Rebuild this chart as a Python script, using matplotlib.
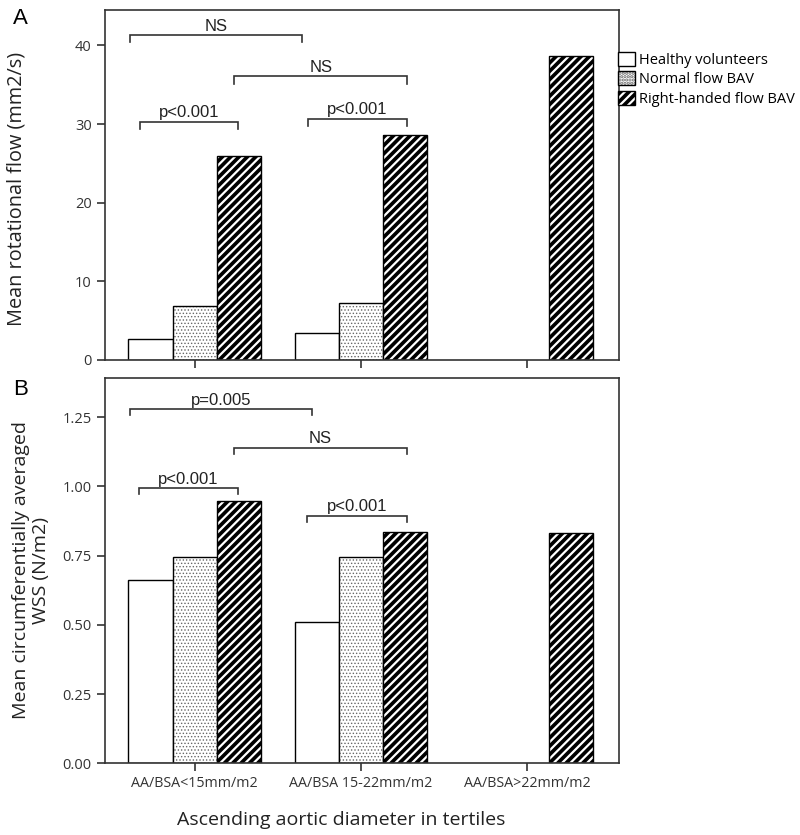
import numpy as np
import matplotlib
matplotlib.use("Agg")
import matplotlib.pyplot as plt
from matplotlib.patches import Patch

plt.rcParams["font.family"] = ["Open Sans", "DejaVu Sans"]
plt.rcParams["hatch.linewidth"] = 1.6

groups = ["AA/BSA<15mm/m2", "AA/BSA 15-22mm/m2", "AA/BSA>22mm/m2"]
series = ["Healthy volunteers", "Normal flow BAV", "Right-handed flow BAV"]

# panel A: mean rotational flow (nan = no bar)
rot_healthy = [2.7, 3.4, np.nan]
rot_normal = [6.9, 7.3, np.nan]
rot_right = [26.0, 28.6, 38.6]

# panel B: mean circumferentially averaged WSS
wss_healthy = [0.662, 0.509, np.nan]
wss_normal = [0.744, 0.744, np.nan]
wss_right = [0.948, 0.834, 0.831]

# brackets: (x_start, x_end, y, label) in data units
brackets_a = [
    (-0.39, 0.645, 41.3, "NS"),
    (0.24, 1.277, 36.05, "NS"),
    (-0.33, 0.259, 30.3, "p<0.001"),
    (0.68, 1.277, 30.7, "p<0.001"),
]
brackets_b = [
    (-0.39, 0.705, 1.279, "p=0.005"),
    (0.235, 1.277, 1.140, "NS"),
    (-0.337, 0.259, 0.993, "p<0.001"),
    (0.675, 1.277, 0.894, "p<0.001"),
]

BAR_W = 0.265
DARK = "#333333"
DOT = "#666666"
DOT_LW = 0.6
DOT_HATCH = "....."


def thin_hatch(artists, lw):
    for a in artists:
        if hasattr(a, "set_hatch_linewidth"):
            a.set_hatch_linewidth(lw)


def draw_bars(ax, healthy, normal, right):
    x = np.arange(len(groups))
    # healthy: plain white
    ax.bar(x - BAR_W, healthy, BAR_W, color="white", edgecolor="black", linewidth=1.0)
    # normal flow: dotted fill
    dots = ax.bar(x, normal, BAR_W, color="white", edgecolor=DOT, hatch=DOT_HATCH, linewidth=0)
    thin_hatch(dots, DOT_LW)
    ax.bar(x, normal, BAR_W, fill=False, edgecolor="black", linewidth=1.0)
    # right-handed: black with white stripes
    ax.bar(x + BAR_W, right, BAR_W, color="black", edgecolor="white", hatch="////", linewidth=0)
    ax.bar(x + BAR_W, right, BAR_W, fill=False, edgecolor="black", linewidth=1.0)


def draw_brackets(ax, brackets, drop):
    for x0, x1, y, label in brackets:
        ax.plot([x0, x0, x1, x1], [y - drop, y, y, y - drop], color=DARK, linewidth=1.2,
                solid_joinstyle="miter")
        ax.annotate(label, xy=((x0 + x1) / 2, y), xytext=(0, 1), textcoords="offset points",
                    ha="center", va="bottom", fontsize=12, family="Liberation Sans", color="#222222")


def style_axes(ax):
    for s in ax.spines.values():
        s.set_color(DARK)
        s.set_linewidth(1.2)
    ax.tick_params(axis="both", length=6, width=1.2, color=DARK, labelcolor="#333333",
                   labelsize=10.5)
    ax.set_xlim(-0.54, 2.554)
    ax.set_xticks(range(len(groups)))


fig = plt.figure(figsize=(8, 8.35), dpi=100)
ax_a = fig.add_axes([0.131, 0.5689, 0.643, 0.4191])
ax_b = fig.add_axes([0.131, 0.0859, 0.643, 0.4618])

draw_bars(ax_a, rot_healthy, rot_normal, rot_right)
draw_brackets(ax_a, brackets_a, 0.9)
style_axes(ax_a)
ax_a.set_ylim(0, 44.5)
ax_a.set_yticks([0, 10, 20, 30, 40])
ax_a.set_xticklabels([])
ax_a.set_ylabel("Mean rotational flow (mm2/s)", fontsize=14.3, color="#222222")
ax_a.yaxis.set_label_coords(-0.152, 0.49)

draw_bars(ax_b, wss_healthy, wss_normal, wss_right)
draw_brackets(ax_b, brackets_b, 0.021)
style_axes(ax_b)
ax_b.set_ylim(0, 1.393)
ax_b.set_yticks([0, 0.25, 0.5, 0.75, 1.0, 1.25])
ax_b.set_yticklabels(["0.00", "0.25", "0.50", "0.75", "1.00", "1.25"])
ax_b.set_xticklabels(groups, fontsize=10.3)
ax_b.set_ylabel("Mean circumferentially averaged\nWSS (N/m2)", fontsize=14, color="#222222",
                linespacing=1.15)
ax_b.yaxis.set_label_coords(-0.107, 0.5)
ax_b.set_xlabel("Ascending aortic diameter in tertiles", fontsize=14, color="#222222")
ax_b.xaxis.set_label_coords(0.459, -0.125)

fig.text(0.016, 0.978, "A", fontsize=16, family="Liberation Sans", ha="left", va="center")
fig.text(0.016, 0.533, "B", fontsize=16, family="Liberation Sans", ha="left", va="center")

# legend handles: hatch layer + black border layer overlaid
dot_patch = Patch(facecolor="white", edgecolor=DOT, hatch=DOT_HATCH, linewidth=0)
thin_hatch([dot_patch], DOT_LW)
handles = [
    Patch(facecolor="white", edgecolor="black", linewidth=1.0),
    (dot_patch, Patch(fill=False, edgecolor="black", linewidth=1.0)),
    (Patch(facecolor="black", edgecolor="white", hatch="////", linewidth=0),
     Patch(fill=False, edgecolor="black", linewidth=1.0)),
]
leg = fig.legend(handles, series, loc="upper left", bbox_to_anchor=(0.772, 0.938), frameon=False,
                 fontsize=10.5, handlelength=1.2, handleheight=1.1, handletextpad=0.3,
                 labelspacing=0.25, borderpad=0, borderaxespad=0)

fig.savefig("out.png", dpi=100)
